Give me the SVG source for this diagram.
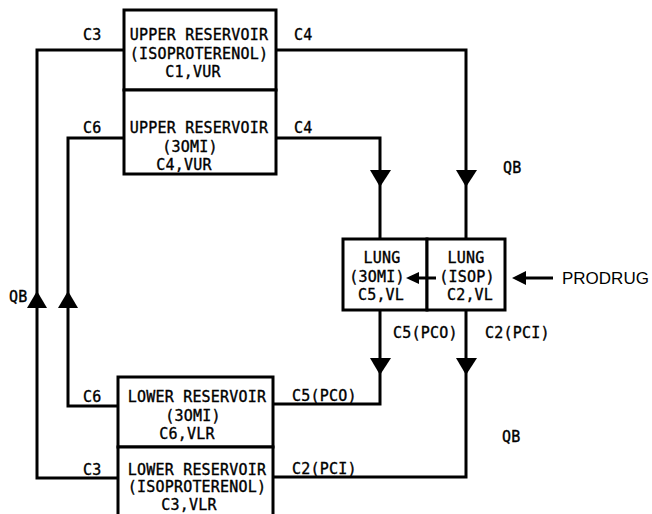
<svg xmlns="http://www.w3.org/2000/svg" width="652" height="514" viewBox="0 0 652 514">
<style>
.b{fill:#fff;stroke:#000;stroke-width:3}
.l{fill:none;stroke:#000;stroke-width:3;stroke-linejoin:miter}
.t{font-family:"DejaVu Sans Mono","Liberation Mono",monospace;font-size:15px;fill:#000;stroke:#000;stroke-width:0.35px;letter-spacing:0.2px}
.m{text-anchor:middle}
.s{font-family:"Liberation Sans",Arial,sans-serif;font-size:17px;fill:#000}
.a{fill:#000}
</style>
<rect width="652" height="514" fill="#fff"/>
<g id="upper-iso">
<rect class="b" x="124" y="10" width="152" height="80"/>
<text class="t m" x="199" y="40">UPPER RESERVOIR</text>
<text class="t m" x="199" y="59">(ISOPROTERENOL)</text>
<text class="t m" x="193" y="77">C1,VUR</text>
</g>
<g id="upper-3omi">
<rect class="b" x="124" y="90" width="152" height="84"/>
<text class="t m" x="199" y="133">UPPER RESERVOIR</text>
<text class="t m" x="190" y="152">(3OMI)</text>
<text class="t m" x="184" y="170">C4,VUR</text>
</g>
<g id="lung-3omi">
<rect class="b" x="343" y="239" width="84" height="71"/>
<text class="t m" x="382" y="263">LUNG</text>
<text class="t m" x="377" y="282">(3OMI)</text>
<text class="t m" x="381" y="300">C5,VL</text>
</g>
<g id="lung-isop">
<rect class="b" x="427" y="239" width="78" height="71"/>
<text class="t m" x="466" y="263">LUNG</text>
<text class="t m" x="467" y="282">(ISOP)</text>
<text class="t m" x="470" y="300">C2,VL</text>
</g>
<g id="lower-3omi">
<rect class="b" x="118" y="377" width="155" height="70"/>
<text class="t m" x="197" y="402">LOWER RESERVOIR</text>
<text class="t m" x="193" y="421">(3OMI)</text>
<text class="t m" x="187" y="439">C6,VLR</text>
</g>
<g id="lower-iso">
<rect class="b" x="118" y="447" width="155" height="80"/>
<text class="t m" x="197" y="475">LOWER RESERVOIR</text>
<text class="t m" x="197" y="492">(ISOPROTERENOL)</text>
<text class="t m" x="189" y="510">C3,VLR</text>
</g>
<g id="connectors">
<polyline class="l" points="124,50 37,50 37,478 118,478"/>
<polyline class="l" points="124,138 68,138 68,406 118,406"/>
<polyline class="l" points="276,50 466,50 466,239"/>
<polyline class="l" points="276,138 380,138 380,239"/>
<polyline class="l" points="380,310 380,404 273,404"/>
<polyline class="l" points="466,310 466,477 273,477"/>
<polygon class="a" points="370,170 391,170 380,187"/>
<polygon class="a" points="456,170 477,170 466,187"/>
<polygon class="a" points="370,358 391,358 380,375"/>
<polygon class="a" points="456,358 477,358 466,375"/>
<polygon class="a" points="27,308 47,308 37,291"/>
<polygon class="a" points="58,308 78,308 68,291"/>
<line class="l" x1="416" y1="278" x2="436" y2="278"/>
<polygon class="a" points="406,278 419,272 419,284"/>
<line class="l" x1="524" y1="278" x2="553" y2="278"/>
<polygon class="a" points="512,278 526,271 526,285"/>
<text class="t" x="83" y="40">C3</text>
<text class="t" x="294" y="40">C4</text>
<text class="t" x="83" y="133">C6</text>
<text class="t" x="294" y="133">C4</text>
<text class="t" x="83" y="402">C6</text>
<text class="t" x="83" y="475">C3</text>
<text class="t" x="292" y="401">C5(PCO)</text>
<text class="t" x="292" y="474">C2(PCI)</text>
<text class="t" x="393" y="338">C5(PCO)</text>
<text class="t" x="485" y="338">C2(PCI)</text>
<text class="t" x="503" y="173">QB</text>
<text class="t" x="502" y="442">QB</text>
<text class="t" x="9" y="302">QB</text>
<text class="s" x="562" y="284">PRODRUG</text>
</g>
</svg>
